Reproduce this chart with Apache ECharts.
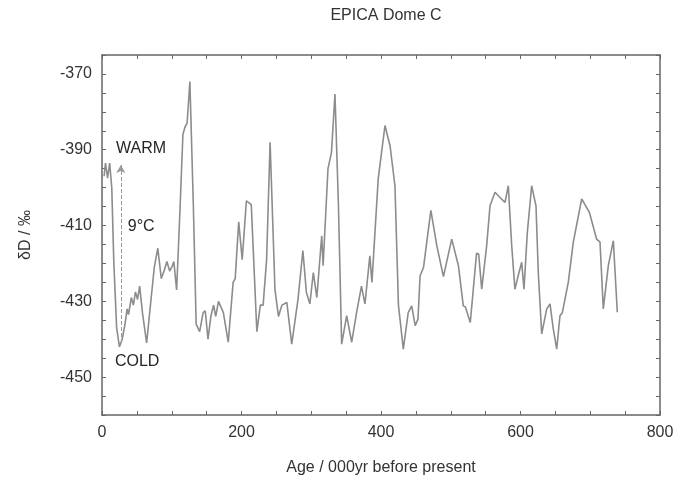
<!DOCTYPE html>
<html>
<head>
<meta charset="utf-8">
<script src="https://cdn.jsdelivr.net/npm/echarts@6/dist/echarts.min.js"></script>
<style>html,body{margin:0;padding:0;background:#fff;}#c{width:686px;height:484px;}</style>
</head>
<body>
<div id="c"></div>
<script>
// Age (kyr before present)
const ages = [3,5,8,11,14,17,21,25,29,33,36,38,42,45,48,51,54,58,64,70,75,80,85,89,93,97,100,103,107,112,116,119,122,126,131,135,140,
145,148,152,156,160,163,167,174,181,188,191,196,201,207,214,222,227,231,236,241,248,253,258,265,272,281,288,293,298,303,308,315,317,324,329,334,339,343.6,350.8,358,365,372,377,384,387,396,405.7,413,420,425,432,439,444,449,453,456,461,471.5,480,489.5,501.4,511,518,521,528,537,540,544.4,551.5,556.3,563.4,570.6,577.8,582.5,587.4,592,597,601.7,605,609.8,616,622.2,625.5,630.4,637.6,642.3,647,651.9,656.6,660,668.5,675.7,687.7,691,698.7,709.2,714,718.7,725.9,733.1,738.8];
// δD (‰)
const dD = [-397,-393.5,-397.5,-393.5,-400,-420,-437,-442,-440,-436,-432,-433.5,-429,-431,-427.5,-429.5,-426,-433,-441,-430,-421,-416,-424,-422,-419.5,-422,-421,-419.5,-427,-405,-386,-384,-383,-372,-405,-436,-438,
-433,-432.5,-440,-434,-431,-434,-430,-433,-440.8,-425,-424,-409,-419,-403.5,-404.5,-438,-431,-431,-419,-388,-427,-434,-431,-430.3,-441.3,-429.5,-416.6,-427.6,-430.7,-422.4,-429,-412.7,-420.6,-395,-390.7,-375.3,-404.8,-441.3,-433.8,-440.8,-433,-426,-430.7,-418,-425,-397.7,-383.6,-389,-399.5,-431,-442.6,-433,-431.2,-436.4,-434.7,-423.3,-421,-406,-415.3,-423.5,-413.6,-420.6,-431.2,-431.5,-435.6,-417.3,-417.5,-426.8,-415.3,-404.8,-401.2,-402.6,-403.9,-399.5,-415.3,-426.8,-423,-419.7,-426.8,-411.8,-399.5,-404.8,-422.4,-438.6,-432,-430.7,-437.3,-442.6,-433.8,-433,-425,-414.4,-403,-404,-406.5,-413.6,-414.4,-432,-420.6,-414,-432.9];

const xTickLabels = [0, 200, 400, 600, 800];
const yTickLabels = [-370, -390, -410, -430, -450];

// annotations
const annoText = ['WARM', '9°C', 'COLD'];
const annoX = [20, 37, 18.5];
const annoY = [-389.8, -410.4, -445.8];
const arrowX = 27, arrowFrom = -441, arrowTo = -394;

const FONT = "'Liberation Sans', Arial, sans-serif";
const TXT = '#333';
const AX = '#666';

const chart = echarts.init(document.getElementById('c'), null, {renderer: 'canvas'});

const baseX = {
  type: 'value', min: 0, max: 800, interval: 50,
  axisLine: {show: true, onZero: false, lineStyle: {color: AX, width: 1.5}},
  axisTick: {show: true, inside: true, length: 4, lineStyle: {color: AX}},
  splitLine: {show: false}
};
const baseY = {
  type: 'value', min: -460, max: -365, interval: 5,
  axisLine: {show: true, onZero: false, lineStyle: {color: AX, width: 1.5}},
  axisTick: {show: true, inside: true, length: 4, lineStyle: {color: AX}},
  splitLine: {show: false}
};

chart.setOption({
  animation: false,
  backgroundColor: '#fff',
  title: {
    text: 'EPICA Dome C', left: 381, top: 3, textAlign: 'center',
    textStyle: {fontFamily: FONT, fontSize: 16, fontWeight: 'normal', color: TXT}
  },
  grid: {left: 102, right: 26, top: 55, bottom: 69},
  xAxis: [
    Object.assign({}, baseX, {
      position: 'bottom',
      name: 'Age / 000yr before present', nameLocation: 'middle', nameGap: 45,
      nameTextStyle: {fontFamily: FONT, fontSize: 16, color: TXT},
      axisLabel: {show: true, margin: 10, fontFamily: FONT, fontSize: 16, color: TXT,
        formatter: v => xTickLabels.includes(v) ? String(v) : ''}
    }),
    Object.assign({}, baseX, {position: 'top', axisLabel: {show: false}})
  ],
  yAxis: [
    Object.assign({}, baseY, {
      position: 'left',
      name: 'δD / ‰', nameLocation: 'middle', nameGap: 68, nameRotate: 90,
      nameTextStyle: {fontFamily: FONT, fontSize: 16, color: TXT},
      axisLabel: {show: true, margin: 10, fontFamily: FONT, fontSize: 16, color: TXT,
        formatter: v => yTickLabels.includes(v) ? String(v) : ''}
    }),
    Object.assign({}, baseY, {position: 'right', axisLabel: {show: false}})
  ],
  series: [
    {
      type: 'line',
      data: ages.map((a, i) => [a, dD[i]]),
      showSymbol: false, symbol: 'none',
      lineStyle: {color: '#8c8c8c', width: 1.6},
      markLine: {
        silent: true,
        symbol: ['none', 'arrow'], symbolSize: [7, 8],
        lineStyle: {color: '#999', type: 'dashed', width: 1},
        label: {show: false},
        data: [[{coord: [arrowX, arrowFrom]}, {coord: [arrowX, arrowTo]}]]
      }
    },
    {
      type: 'scatter',
      symbolSize: 0,
      silent: true,
      itemStyle: {color: '#222', opacity: 1},
      data: annoText.map((t, i) => ({value: [annoX[i], annoY[i]], name: t})),
      label: {
        show: true, position: 'right', distance: 0,
        formatter: p => p.name,
        fontFamily: FONT, fontSize: 16, color: '#262626', opacity: 1
      }
    }
  ]
});
</script>
</body>
</html>
